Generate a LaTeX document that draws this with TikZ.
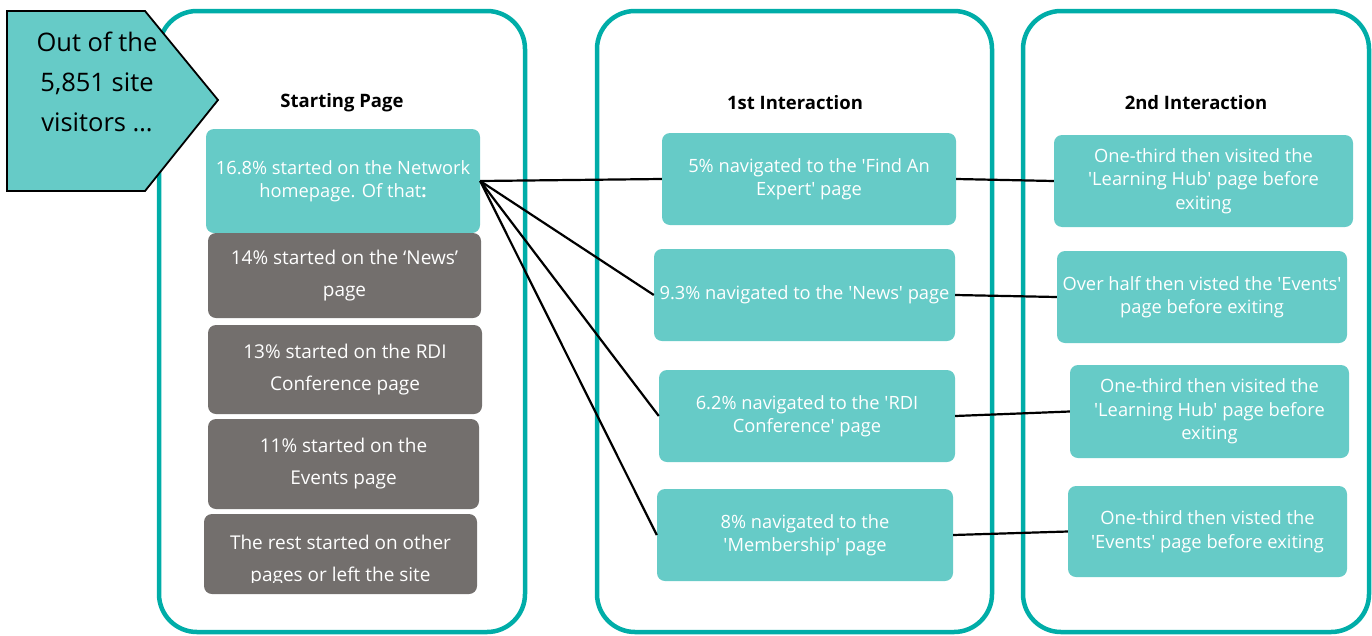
\documentclass[tikz,border=0pt]{standalone}
\usepackage{fontspec}
\setmainfont{Open Sans}
\usetikzlibrary{positioning,calc}
\definecolor{tealline}{HTML}{00ADA8}
\definecolor{tealfill}{HTML}{66CBC7}
\definecolor{greyfill}{HTML}{736F6D}
\newcommand{\sq}{\textquotesingle}

\begin{document}
\begin{tikzpicture}[
    x=1pt,y=-1pt,
    panel/.style={draw=tealline,line width=4.5pt,rounded corners=38pt},
    pagebox/.style={rounded corners=8pt,text=white,align=center,inner sep=0pt,
      font=\fontsize{18.3}{23.5}\selectfont},
    tealbox/.style={pagebox,fill=tealfill},
    greybox/.style={pagebox,fill=greyfill,font=\fontsize{19}{32}\selectfont},
    heading/.style={font=\bfseries\fontsize{18.5}{20}\selectfont},
    link/.style={draw=black,line width=2.2pt}
  ]
  \useasboundingbox (0,0) rectangle (1372,635);

  % the three columns
  \draw[panel] (159,11) rectangle (525,632);
  \draw[panel] (597,11) rectangle (992,632);
  \draw[panel] (1023,11) rectangle (1369,632);

  \node[heading] (hstart) at (342,103) {Starting Page};
  \node[heading] (hfirst) at (795,103) {1st Interaction};
  \node[heading] (hsecond) at (1196,103) {2nd Interaction};

  % visitors banner
  \draw[fill=tealfill,line width=1.8pt] (7,11) -- (145,11) -- (218,100)
    -- (145,191) -- (7,191) -- cycle;
  \node[align=center,font=\fontsize{25.5}{40}\selectfont] (visitors) at (97,82)
    {Out of the\\5,851 site\\visitors \dots};

  % starting page
  \node[tealbox,minimum width=274pt,minimum height=104pt] (start) at (343,181)
    {16.8\% started on the Network\\homepage. Of that\textbf{:}};
  \node[greybox,minimum width=273pt,minimum height=85pt] (news) at (344.5,275.5)
    {14\% started on the ‘News’\\page};
  \node[greybox,minimum width=274pt,minimum height=89pt] (rdi) at (345,369.5)
    {13\% started on the RDI\\Conference page};
  \node[greybox,minimum width=271pt,minimum height=90pt] (events) at (343.5,464)
    {11\% started on the\\Events page};
  \node[greybox,minimum width=273pt,minimum height=80pt] (rest) at (340.5,554) {};
  \begin{scope}
    \clip (rest.north west) rectangle ($(rest.east)+(0,28)$);
    \node[greybox] (resttext) at (340.5,561)
      {The rest started on other\\pages or left the site};
  \end{scope}

  % 1st interaction
  \node[tealbox,minimum width=294pt,minimum height=92pt] (expert) at (809,179)
    {5\% navigated to the \sq Find An\\Expert\sq\ page};
  \node[tealbox,minimum width=301pt,minimum height=92pt] (newsnav) at (804.5,295)
    {9.3\% navigated to the \sq News\sq\ page};
  \node[tealbox,minimum width=296pt,minimum height=92pt] (rdinav) at (807,416)
    {6.2\% navigated to the \sq RDI\\Conference\sq\ page};
  \node[tealbox,minimum width=296pt,minimum height=92pt] (member) at (805,535)
    {8\% navigated to the\\\sq Membership\sq\ page};

  % 2nd interaction
  \node[tealbox,minimum width=299pt,minimum height=92pt] (hubA) at (1203.5,181)
    {One-third then visited the\\\sq Learning Hub\sq\ page before\\exiting};
  \node[tealbox,minimum width=290pt,minimum height=92pt] (eventsA) at (1202,297)
    {Over half then visted the \sq Events\sq\\page before exiting};
  \node[tealbox,minimum width=279pt,minimum height=93pt] (hubB) at (1209.5,411.5)
    {One-third then visited the\\\sq Learning Hub\sq\ page before\\exiting};
  \node[tealbox,minimum width=279pt,minimum height=91pt] (eventsB) at (1207.5,531.5)
    {One-third then visted the\\\sq Events\sq\ page before exiting};

  % links
  \foreach \to in {expert,newsnav,rdinav,member}
    \draw[link] (start.east) -- (\to.west);
  \draw[link] (expert.east) -- (hubA.west);
  \draw[link] (newsnav.east) -- (eventsA.west);
  \draw[link] (rdinav.east) -- (hubB.west);
  \draw[link] (member.east) -- (eventsB.west);
\end{tikzpicture}
\end{document}
